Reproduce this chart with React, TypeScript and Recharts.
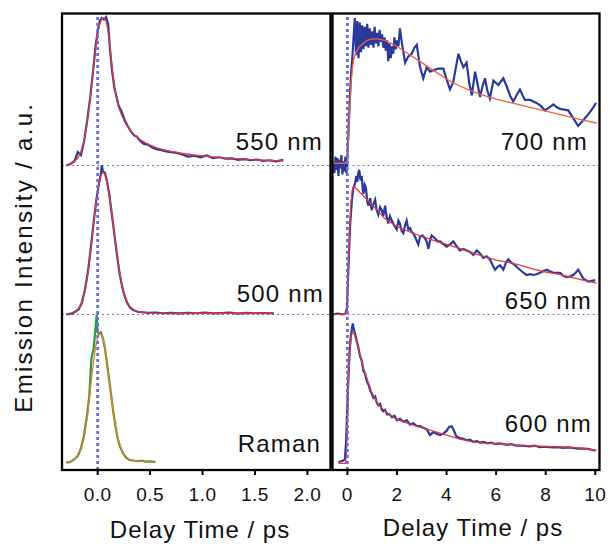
import { LineChart, Line, XAxis, YAxis, ReferenceLine } from 'recharts';

type Pt = [number, number];

const FONT = '"Liberation Sans", Arial, Helvetica, sans-serif';

const LEFT_TICKS = [0, 0.5, 1, 1.5, 2];
const RIGHT_TICKS = [0, 2, 4, 6, 8, 10];
const LEFT_LABELS = ['550 nm', '500 nm', 'Raman'];
const RIGHT_LABELS = ['700 nm', '650 nm', '600 nm'];
const X_TITLE = 'Delay Time / ps';
const Y_TITLE = 'Emission Intensity / a.u.';

// [delay (ps), normalised intensity]
const DATA_550: Pt[] = [
  [-0.30, 0.0], [-0.26, 0.01], [-0.22, 0.03], [-0.19, 0.09], [-0.16, 0.07], [-0.13, 0.16], [-0.10, 0.30],
  [-0.07, 0.46], [-0.04, 0.66], [-0.02, 0.80], [0.00, 0.90], [0.02, 0.97], [0.04, 0.99], [0.06, 0.98],
  [0.08, 0.995], [0.10, 0.95], [0.12, 0.76], [0.14, 0.62], [0.16, 0.52], [0.18, 0.46], [0.20, 0.40],
  [0.23, 0.36], [0.26, 0.30], [0.29, 0.26], [0.32, 0.225], [0.35, 0.20], [0.37, 0.195], [0.40, 0.17],
  [0.44, 0.145], [0.48, 0.14], [0.52, 0.12], [0.56, 0.11], [0.60, 0.105], [0.65, 0.095], [0.70, 0.09],
  [0.75, 0.085], [0.80, 0.075], [0.86, 0.06], [0.92, 0.065], [0.98, 0.055], [1.04, 0.067], [1.10, 0.05],
  [1.16, 0.055], [1.22, 0.045], [1.28, 0.048], [1.34, 0.038], [1.40, 0.042], [1.46, 0.035], [1.52, 0.04],
  [1.58, 0.03], [1.64, 0.035], [1.70, 0.028], [1.77, 0.038],
];
const FIT_550: Pt[] = [
  [-0.30, 0.0], [-0.26, 0.01], [-0.22, 0.03], [-0.19, 0.05], [-0.16, 0.09], [-0.13, 0.16], [-0.10, 0.29],
  [-0.07, 0.46], [-0.04, 0.65], [-0.02, 0.78], [0.00, 0.88], [0.02, 0.95], [0.04, 0.985], [0.06, 0.99],
  [0.08, 0.97], [0.10, 0.90], [0.12, 0.78], [0.14, 0.64], [0.16, 0.53], [0.18, 0.45], [0.20, 0.39],
  [0.23, 0.335], [0.26, 0.29], [0.29, 0.255], [0.32, 0.228], [0.36, 0.20], [0.40, 0.175], [0.45, 0.153],
  [0.50, 0.136], [0.56, 0.12], [0.62, 0.107], [0.70, 0.095], [0.80, 0.082], [0.90, 0.072], [1.00, 0.064],
  [1.10, 0.057], [1.20, 0.051], [1.30, 0.046], [1.40, 0.042], [1.50, 0.038], [1.60, 0.035], [1.70, 0.032],
  [1.77, 0.03],
];

const DATA_500: Pt[] = [
  [-0.30, 0.0], [-0.25, 0.005], [-0.21, 0.02], [-0.18, 0.035], [-0.15, 0.08], [-0.12, 0.17], [-0.09, 0.30],
  [-0.06, 0.48], [-0.03, 0.67], [-0.01, 0.78], [0.01, 0.87], [0.03, 0.94], [0.04, 1.0], [0.05, 0.96],
  [0.07, 0.95], [0.09, 0.89], [0.11, 0.81], [0.13, 0.70], [0.15, 0.59], [0.17, 0.48], [0.19, 0.37],
  [0.21, 0.27], [0.23, 0.20], [0.25, 0.14], [0.28, 0.08], [0.31, 0.045], [0.34, 0.03], [0.38, 0.018],
  [0.42, 0.015], [0.48, 0.01], [0.55, 0.013], [0.62, 0.008], [0.70, 0.011], [0.78, 0.007], [0.86, 0.01],
  [0.94, 0.008], [1.02, 0.012], [1.10, 0.007], [1.18, 0.009], [1.26, 0.012], [1.34, 0.006], [1.42, 0.01],
  [1.50, 0.008], [1.58, 0.009], [1.68, 0.007],
];
const FIT_500: Pt[] = [
  [-0.30, 0.0], [-0.24, 0.01], [-0.20, 0.025], [-0.16, 0.06], [-0.12, 0.16], [-0.09, 0.29], [-0.06, 0.47],
  [-0.03, 0.66], [-0.01, 0.78], [0.01, 0.87], [0.03, 0.93], [0.05, 0.955], [0.07, 0.94], [0.09, 0.88],
  [0.11, 0.80], [0.13, 0.70], [0.15, 0.59], [0.17, 0.48], [0.19, 0.37], [0.21, 0.28], [0.23, 0.20],
  [0.25, 0.14], [0.28, 0.085], [0.31, 0.05], [0.35, 0.028], [0.40, 0.017], [0.50, 0.011], [0.70, 0.009],
  [1.00, 0.008], [1.30, 0.008], [1.68, 0.008],
];

const DATA_RAMAN: Pt[] = [
  [-0.30, 0.005], [-0.26, 0.01], [-0.22, 0.03], [-0.19, 0.05], [-0.16, 0.10], [-0.13, 0.19], [-0.10, 0.33],
  [-0.08, 0.45], [-0.06, 0.70], [-0.05, 0.74], [-0.04, 0.76], [-0.02, 0.91], [-0.01, 1.0], [0.00, 0.88],
  [0.01, 0.87], [0.03, 0.88], [0.05, 0.84], [0.07, 0.77], [0.09, 0.67], [0.11, 0.56], [0.13, 0.45],
  [0.15, 0.34], [0.17, 0.25], [0.19, 0.17], [0.21, 0.12], [0.24, 0.07], [0.27, 0.04], [0.30, 0.025],
  [0.34, 0.02], [0.38, 0.015], [0.42, 0.018], [0.46, 0.012], [0.50, 0.014], [0.55, 0.01],
];
const FIT_RAMAN: Pt[] = [
  [-0.30, 0.005], [-0.25, 0.015], [-0.20, 0.045], [-0.16, 0.10], [-0.13, 0.17], [-0.10, 0.31], [-0.08, 0.43],
  [-0.06, 0.56], [-0.04, 0.68], [-0.02, 0.78], [0.00, 0.85], [0.02, 0.875], [0.04, 0.86], [0.06, 0.81],
  [0.08, 0.73], [0.10, 0.62], [0.12, 0.50], [0.14, 0.39], [0.16, 0.29], [0.18, 0.21], [0.20, 0.15],
  [0.23, 0.09], [0.26, 0.05], [0.30, 0.028], [0.36, 0.017], [0.45, 0.012], [0.55, 0.01],
];

const DATA_700: Pt[] = [
  [-0.56, 0.02], [-0.52, -0.05], [-0.48, 0.06], [-0.44, -0.03], [-0.40, 0.05], [-0.36, -0.07], [-0.32, 0.04],
  [-0.28, -0.02], [-0.24, 0.07], [-0.20, -0.06], [-0.16, 0.03], [-0.12, -0.04], [-0.08, 0.06], [-0.04, -0.05],
  [0.00, 0.05], [0.05, 0.25], [0.10, 0.45], [0.15, 0.62], [0.20, 0.72], [0.25, 0.86], [0.30, 0.99],
  [0.35, 0.74], [0.40, 0.97], [0.45, 0.72], [0.50, 0.96], [0.55, 0.76], [0.60, 0.94], [0.65, 0.78],
  [0.70, 0.93], [0.75, 0.80], [0.80, 0.95], [0.85, 0.79], [0.90, 0.92], [0.95, 0.81], [1.00, 0.90],
  [1.05, 0.79], [1.10, 0.93], [1.15, 0.82], [1.20, 0.89], [1.25, 0.80], [1.30, 0.91], [1.35, 0.83],
  [1.40, 0.88], [1.45, 0.79], [1.50, 0.86], [1.55, 0.77], [1.60, 0.84], [1.65, 0.70], [1.70, 0.82],
  [1.75, 0.72], [1.80, 0.80], [1.85, 0.75], [1.90, 0.86], [1.95, 0.78], [2.00, 0.84], [2.06, 0.80],
  [2.12, 0.92], [2.20, 0.82], [2.33, 0.69], [2.45, 0.73], [2.60, 0.75], [2.70, 0.79], [2.80, 0.81],
  [2.93, 0.66], [3.06, 0.585], [3.20, 0.66], [3.33, 0.63], [3.47, 0.64], [3.67, 0.65], [3.87, 0.65],
  [4.00, 0.58], [4.14, 0.51], [4.27, 0.56], [4.38, 0.66], [4.48, 0.75], [4.58, 0.70], [4.68, 0.66],
  [4.81, 0.69], [4.92, 0.55], [5.02, 0.47], [5.15, 0.63], [5.25, 0.55], [5.35, 0.46], [5.45, 0.53],
  [5.55, 0.585], [5.65, 0.50], [5.75, 0.45], [5.89, 0.57], [6.09, 0.54], [6.29, 0.585], [6.43, 0.53],
  [6.56, 0.47], [6.69, 0.43], [6.82, 0.47], [6.96, 0.51], [7.16, 0.44], [7.37, 0.44], [7.50, 0.43],
  [7.63, 0.42], [7.80, 0.40], [7.97, 0.37], [8.15, 0.39], [8.31, 0.41], [8.45, 0.39], [8.58, 0.38],
  [8.75, 0.375], [8.91, 0.37], [9.10, 0.32], [9.31, 0.265], [9.52, 0.305], [9.65, 0.33], [9.79, 0.36],
  [9.92, 0.39], [10.03, 0.42],
];
const FIT_700: Pt[] = [
  [-0.56, 0.015], [-0.30, 0.015], [-0.10, 0.015], [0.00, 0.03], [0.05, 0.2], [0.10, 0.4], [0.15, 0.55],
  [0.20, 0.65], [0.25, 0.71], [0.35, 0.76], [0.50, 0.80], [0.65, 0.82], [0.80, 0.84], [1.00, 0.85],
  [1.20, 0.85], [1.50, 0.84], [2.00, 0.80], [2.50, 0.745], [3.00, 0.69], [3.50, 0.635], [4.00, 0.58],
  [4.50, 0.535], [5.00, 0.50], [5.50, 0.47], [6.00, 0.445], [6.50, 0.425], [7.00, 0.405], [7.50, 0.385],
  [8.00, 0.365], [8.50, 0.345], [9.00, 0.325], [9.50, 0.305], [10.05, 0.285],
];

const DATA_650: Pt[] = [
  [-0.56, 0.0], [-0.40, 0.005], [-0.20, 0.0], [-0.08, 0.005], [-0.02, 0.04], [0.04, 0.30], [0.11, 0.60],
  [0.18, 0.76], [0.24, 0.85], [0.31, 0.88], [0.36, 0.93], [0.40, 0.89], [0.44, 0.95], [0.48, 0.97],
  [0.53, 0.90], [0.58, 0.93], [0.62, 0.84], [0.65, 0.81], [0.70, 0.87], [0.75, 0.85], [0.80, 0.76],
  [0.85, 0.73], [0.92, 0.78], [0.98, 0.70], [1.05, 0.74], [1.12, 0.77], [1.18, 0.70], [1.25, 0.67],
  [1.32, 0.72], [1.39, 0.70], [1.45, 0.66], [1.52, 0.73], [1.58, 0.66], [1.65, 0.61], [1.72, 0.66],
  [1.79, 0.63], [1.88, 0.60], [1.99, 0.57], [2.06, 0.63], [2.12, 0.61], [2.19, 0.56], [2.26, 0.545],
  [2.33, 0.60], [2.39, 0.63], [2.46, 0.57], [2.53, 0.58], [2.60, 0.55], [2.66, 0.545], [2.76, 0.51],
  [2.86, 0.47], [2.93, 0.52], [3.03, 0.53], [3.13, 0.51], [3.20, 0.49], [3.27, 0.44], [3.34, 0.50],
  [3.40, 0.53], [3.47, 0.52], [3.54, 0.51], [3.64, 0.49], [3.74, 0.49], [3.88, 0.47], [4.01, 0.455],
  [4.14, 0.47], [4.27, 0.49], [4.40, 0.46], [4.54, 0.43], [4.68, 0.44], [4.81, 0.43], [4.95, 0.42],
  [5.08, 0.40], [5.22, 0.43], [5.35, 0.41], [5.48, 0.38], [5.62, 0.39], [5.75, 0.37], [5.86, 0.33],
  [5.96, 0.30], [6.06, 0.32], [6.16, 0.33], [6.29, 0.30], [6.40, 0.35], [6.49, 0.37], [6.60, 0.35],
  [6.69, 0.34], [6.82, 0.32], [6.96, 0.30], [7.10, 0.28], [7.23, 0.265], [7.37, 0.27], [7.50, 0.265],
  [7.63, 0.27], [7.77, 0.28], [7.90, 0.29], [8.04, 0.30], [8.17, 0.29], [8.31, 0.28], [8.45, 0.28],
  [8.58, 0.28], [8.71, 0.26], [8.84, 0.25], [8.97, 0.255], [9.11, 0.265], [9.21, 0.28], [9.31, 0.30],
  [9.42, 0.27], [9.52, 0.24], [9.62, 0.23], [9.72, 0.22], [9.86, 0.225], [10.0, 0.23],
];
const FIT_650: Pt[] = [
  [-0.56, 0.0], [-0.10, 0.0], [-0.02, 0.02], [0.05, 0.35], [0.10, 0.60], [0.15, 0.76], [0.20, 0.84],
  [0.25, 0.86], [0.30, 0.855], [0.50, 0.82], [0.75, 0.78], [1.00, 0.735], [1.25, 0.69], [1.50, 0.645],
  [2.00, 0.59], [2.50, 0.555], [3.00, 0.525], [3.50, 0.495], [4.00, 0.47], [4.50, 0.445], [5.00, 0.415],
  [5.50, 0.39], [6.00, 0.365], [6.50, 0.35], [7.00, 0.33], [7.50, 0.305], [8.00, 0.285], [8.50, 0.27],
  [9.00, 0.25], [9.50, 0.23], [10.05, 0.21],
];

const DATA_600: Pt[] = [
  [-0.36, 0.01], [-0.25, 0.015], [-0.16, 0.02], [-0.10, 0.03], [-0.05, 0.15], [0.00, 0.40], [0.04, 0.58],
  [0.09, 0.75], [0.14, 0.86], [0.18, 0.90], [0.22, 0.94], [0.26, 0.90], [0.31, 0.87], [0.38, 0.82],
  [0.44, 0.78], [0.51, 0.72], [0.58, 0.69], [0.65, 0.62], [0.72, 0.60], [0.79, 0.55], [0.85, 0.53],
  [0.92, 0.49], [0.98, 0.47], [1.05, 0.44], [1.12, 0.45], [1.18, 0.41], [1.25, 0.39], [1.32, 0.40],
  [1.39, 0.36], [1.45, 0.35], [1.52, 0.36], [1.60, 0.33], [1.70, 0.33], [1.80, 0.31], [1.90, 0.32],
  [2.00, 0.29], [2.12, 0.30], [2.26, 0.28], [2.40, 0.29], [2.53, 0.26], [2.66, 0.27], [2.80, 0.25],
  [2.93, 0.25], [3.06, 0.24], [3.20, 0.23], [3.33, 0.19], [3.47, 0.21], [3.60, 0.20], [3.74, 0.19],
  [3.87, 0.20], [4.01, 0.22], [4.10, 0.245], [4.21, 0.25], [4.30, 0.22], [4.40, 0.18], [4.54, 0.17],
  [4.68, 0.165], [4.81, 0.155], [4.95, 0.16], [5.08, 0.145], [5.22, 0.15], [5.35, 0.14], [5.50, 0.145],
  [5.65, 0.135], [5.80, 0.14], [5.96, 0.13], [6.12, 0.135], [6.29, 0.13], [6.45, 0.125], [6.62, 0.13],
  [6.80, 0.12], [6.96, 0.12], [7.15, 0.118], [7.35, 0.115], [7.55, 0.12], [7.75, 0.11], [7.95, 0.112],
  [8.15, 0.11], [8.31, 0.108], [8.50, 0.11], [8.70, 0.105], [8.90, 0.108], [9.10, 0.104], [9.30, 0.10],
  [9.50, 0.10], [9.70, 0.098], [9.85, 0.092], [10.0, 0.086],
];
const FIT_600: Pt[] = [
  [-0.36, 0.0], [-0.08, 0.0], [-0.04, 0.05], [0.00, 0.25], [0.05, 0.55], [0.10, 0.75], [0.15, 0.85],
  [0.20, 0.88], [0.25, 0.88], [0.35, 0.83], [0.50, 0.73], [0.65, 0.64], [0.80, 0.565], [1.00, 0.47],
  [1.25, 0.395], [1.50, 0.355], [1.75, 0.32], [2.00, 0.295], [2.50, 0.265], [3.00, 0.24], [3.50, 0.215],
  [4.00, 0.19], [4.50, 0.165], [5.00, 0.147], [5.50, 0.137], [6.00, 0.132], [6.50, 0.127], [7.00, 0.12],
  [7.50, 0.117], [8.00, 0.115], [8.50, 0.112], [9.00, 0.108], [9.50, 0.102], [10.05, 0.088],
];

const BLUE = '#2a3a9c';
const RED = '#e4383a';
const ORANGE_RED = '#f0603c';
const GREEN = '#2a9c3c';
const ORANGE = '#f07a30';
const DOT = '#6d6dd2';

const rows = (pts: Pt[], offset: number) => pts.map(([t, v]) => ({ t, y: v + offset }));

const Y_DOMAIN: [number, number] = [-0.044, 3.02];

function trace(key: string, pts: Pt[], offset: number, color: string, width: number) {
  return (
    <Line
      key={key}
      data={rows(pts, offset)}
      dataKey="y"
      type="linear"
      stroke={color}
      strokeWidth={width}
      dot={false}
      activeDot={false}
      isAnimationActive={false}
    />
  );
}

const tickStyle = { fontSize: 19, fill: '#111', fontFamily: FONT, letterSpacing: 0.5 };

export default function App() {
  return (
    <div style={{ position: 'absolute', left: 0, top: 0, width: 609, height: 544, background: '#fff' }}>
      <div style={{ position: 'absolute', left: 0, top: 0 }}>
        <LineChart width={340} height={544} margin={{ top: 13.5, right: 9.5, left: 62, bottom: 0 }}>
          <XAxis
            dataKey="t"
            type="number"
            domain={[-0.34, 2.22]}
            allowDataOverflow
            ticks={LEFT_TICKS}
            tickFormatter={(v: number) => v.toFixed(1)}
            axisLine={false}
            tickLine={{ stroke: '#000', strokeWidth: 2 }}
            tickSize={5}
            tickMargin={13}
            height={74}
            tick={tickStyle}
          />
          <YAxis hide type="number" domain={Y_DOMAIN} allowDataOverflow />
          <ReferenceLine y={1} stroke={DOT} strokeWidth={1} strokeDasharray="2 3" />
          <ReferenceLine y={2} stroke={DOT} strokeWidth={1} strokeDasharray="2 3" />
          {trace('d550', DATA_550, 2, BLUE, 2.2)}
          {trace('f550', FIT_550, 2, RED, 1.3)}
          {trace('d500', DATA_500, 1, BLUE, 2.2)}
          {trace('f500', FIT_500, 1, RED, 1.3)}
          {trace('draman', DATA_RAMAN, 0, GREEN, 2.2)}
          {trace('framan', FIT_RAMAN, 0, ORANGE, 1.3)}
          <ReferenceLine x={0} stroke={DOT} strokeWidth={2.8} strokeDasharray="3 3" />
        </LineChart>
      </div>
      <div style={{ position: 'absolute', left: 330, top: 0 }}>
        <LineChart width={279} height={544} margin={{ top: 13.5, right: 9.5, left: 2.5, bottom: 0 }}>
          <XAxis
            dataKey="t"
            type="number"
            domain={[-0.6, 10.17]}
            allowDataOverflow
            ticks={RIGHT_TICKS}
            axisLine={false}
            tickLine={{ stroke: '#000', strokeWidth: 2 }}
            tickSize={5}
            tickMargin={13}
            height={74}
            tick={tickStyle}
          />
          <YAxis hide type="number" domain={Y_DOMAIN} allowDataOverflow />
          <ReferenceLine y={1} stroke={DOT} strokeWidth={1} strokeDasharray="2 3" />
          <ReferenceLine y={2} stroke={DOT} strokeWidth={1} strokeDasharray="2 3" />
          {trace('d700', DATA_700, 2, BLUE, 2.2)}
          {trace('f700', FIT_700, 2, ORANGE_RED, 1.3)}
          {trace('d650', DATA_650, 1, BLUE, 2.2)}
          {trace('f650', FIT_650, 1, RED, 1.3)}
          {trace('d600', DATA_600, 0, BLUE, 2.2)}
          {trace('f600', FIT_600, 0, RED, 1.3)}
          <ReferenceLine x={0} stroke={DOT} strokeWidth={2.8} strokeDasharray="3 3" />
        </LineChart>
      </div>
      <svg
        width={609}
        height={544}
        style={{ position: 'absolute', left: 0, top: 0, pointerEvents: 'none', fontFamily: FONT }}
      >
        <rect x={62} y={13.5} width={268.5} height={456.5} fill="none" stroke="#000" strokeWidth={2.3} />
        <rect x={332.5} y={13.5} width={267} height={456.5} fill="none" stroke="#000" strokeWidth={2.3} />
        <g fontSize={24} fill="#111" letterSpacing={1.2} textAnchor="end">
          <text x={323} y={150}>{LEFT_LABELS[0]}</text>
          <text x={324} y={301.5}>{LEFT_LABELS[1]}</text>
          <text x={321} y={451.5}>{LEFT_LABELS[2]}</text>
          <text x={588} y={150}>{RIGHT_LABELS[0]}</text>
          <text x={592} y={308.5}>{RIGHT_LABELS[1]}</text>
          <text x={592} y={431.5}>{RIGHT_LABELS[2]}</text>
        </g>
        <g fontSize={24} fill="#111" letterSpacing={1} textAnchor="middle">
          <text x={200} y={537.5}>{X_TITLE}</text>
          <text x={473} y={536}>{X_TITLE}</text>
        </g>
        <text
          transform="translate(32.3,257.2) rotate(-90)"
          fontSize={24}
          fill="#111"
          letterSpacing={2.3}
          textAnchor="middle"
        >
          {Y_TITLE}
        </text>
      </svg>
    </div>
  );
}
